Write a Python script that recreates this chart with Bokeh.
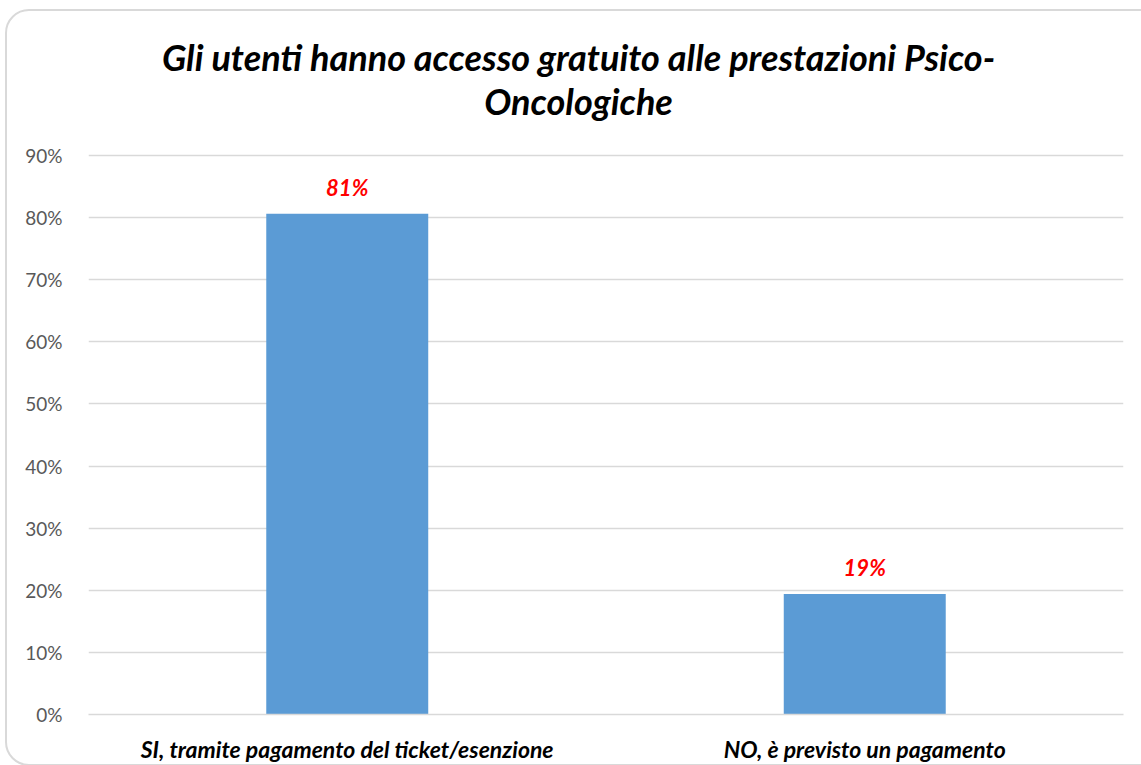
from bokeh.plotting import figure
from bokeh.models import (Label, NumeralTickFormatter, FactorRange, Range1d, ColumnDataSource,
                          LabelSet, FixedTicker, InlineStyleSheet)
from bokeh.core.properties import value
from bokeh.embed import file_html
from bokeh.resources import INLINE

categories = ["SI, tramite pagamento del ticket/esenzione", "NO, è previsto un pagamento"]
values = [0.806, 0.194]
value_labels = ["81%", "19%"]
y_ticks = [0.0, 0.1, 0.2, 0.3, 0.4, 0.5, 0.6, 0.7, 0.8, 0.9]
title_lines = ["Gli utenti hanno accesso gratuito alle prestazioni Psico-", "Oncologiche"]

FONT = "Lato"

src = ColumnDataSource(dict(cat=categories, val=values, lab=value_labels))

# frame spans from near the top of the page so the title (drawn as labels) sits inside it
p = figure(x_range=FactorRange(*categories, range_padding=0), y_range=Range1d(0, 1.1302),
           width=1141, height=765, output_backend="svg", toolbar_location=None,
           min_border_left=88, min_border_right=18, min_border_top=12, min_border_bottom=51)
p.title = None
p.outline_line_color = None
p.background_fill_color = "white"
p.border_fill_color = "white"
p.border_fill_alpha = 0.0

p.vbar(x="cat", top="val", width=0.313, source=src, fill_color="#5B9BD5", line_color=None)

p.add_layout(LabelSet(x="cat", y="val", text="lab", source=src, y_offset=18,
                      text_align="center", text_baseline="alphabetic",
                      text_color="#FF0000", text_font=value(FONT), text_font_size="22px",
                      text_font_style="bold italic"))

p.yaxis.ticker = FixedTicker(ticks=y_ticks)
p.yaxis.formatter = NumeralTickFormatter(format="0%")
p.yaxis.axis_line_color = None
p.yaxis.major_tick_line_color = None
p.yaxis.major_tick_out = 0
p.yaxis.minor_tick_line_color = None
p.yaxis.major_label_text_font = FONT
p.yaxis.major_label_text_font_size = "19px"
p.yaxis.major_label_text_color = "#595959"
p.yaxis.major_label_standoff = 26

p.xaxis.axis_line_color = "#D9D9D9"
p.xaxis.axis_line_width = 1.5
p.xaxis.major_tick_line_color = None
p.xaxis.major_tick_out = 0
p.xaxis.major_label_text_font = FONT
p.xaxis.major_label_text_font_size = "23px"
p.xaxis.major_label_text_font_style = "bold italic"
p.xaxis.major_label_text_color = "black"
p.xaxis.major_label_standoff = 20

p.xgrid.grid_line_color = None
p.ygrid.grid_line_color = "#D9D9D9"
p.ygrid.grid_line_width = 1.5

for yy, t in zip([1.0590, 0.9880], title_lines):
    p.add_layout(Label(x=0.947, y=yy, text=t,
                       text_align="center", text_baseline="middle",
                       text_font=FONT, text_font_size="36px", text_font_style="bold italic",
                       text_color="black"))

p.stylesheets = [InlineStyleSheet(css="""
:host { overflow: hidden; position: relative; }
:host::after { content: ""; position: absolute; left: 5px; top: 9px; right: -40px; bottom: -1px;
  border: 2px solid #D9D9D9; border-radius: 24px; pointer-events: none; z-index: 10; }
""")]

open("out.html", "w").write(file_html(p, INLINE))
